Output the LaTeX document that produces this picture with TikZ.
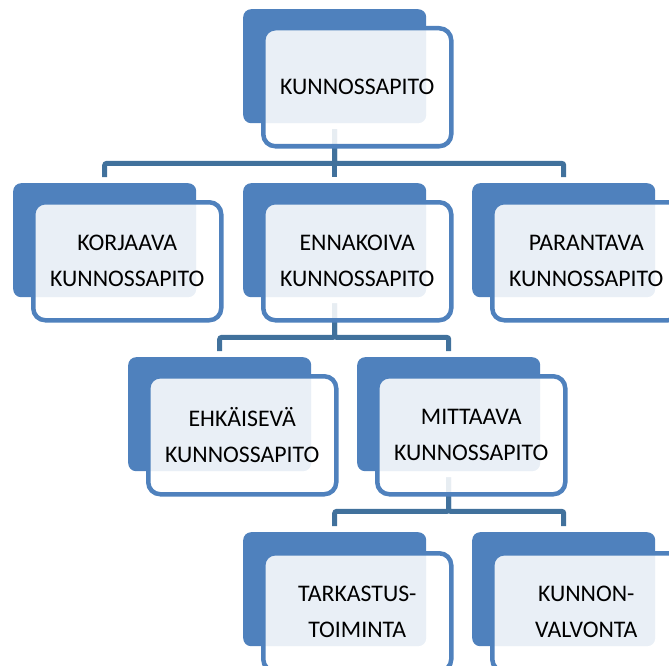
\documentclass[tikz,border=0pt]{standalone}
\usepackage{fontspec}
\setmainfont{Carlito}
\definecolor{accent}{HTML}{4F81BD}
\definecolor{connc}{HTML}{41719C}
\tikzset{
 darkbox/.style={anchor=north west, fill=accent, draw=none, rounded corners=8pt, minimum width=183pt, minimum height=114pt, inner sep=0pt},
 frontbox/.style={anchor=north west, draw=accent, line width=4.5pt, fill=white, fill opacity=0.88, text opacity=1, rounded corners=12pt, minimum width=188pt, minimum height=118pt, inner sep=0pt, align=center, font=\fontsize{23.8}{36}\selectfont},
 conn/.style={draw=connc, line width=5pt, rounded corners=2pt}
}
\begin{document}
\begin{tikzpicture}[x=1pt,y=-1pt]
\useasboundingbox (0,0) rectangle (669,666);
\clip (0,0) rectangle (669,666);
% dark back shapes
\node[darkbox] (rootd) at (243,9) {};
\node[darkbox] (kord) at (13,183) {};
\node[darkbox] (ennd) at (243,183) {};
\node[darkbox] (pard) at (472,183) {};
\node[darkbox] (ehkd) at (128,357) {};
\node[darkbox] (mitd) at (357,357) {};
\node[darkbox] (tard) at (243,532) {};
\node[darkbox] (kund) at (472,532) {};
% connectors
\foreach \p/\c in {rootd/kord, rootd/ennd, rootd/pard, ennd/ehkd, ennd/mitd, mitd/tard, mitd/kund}{
  \draw[conn] ([yshift=-6pt]\p.south) -- ([yshift=-40pt]\p.south) -| ([yshift=6pt]\c.north);
}
% front text boxes
\node[frontbox] (root) at (261,26) {KUNNOSSAPITO};
\node[frontbox] (kor) at (31,200) {KORJAAVA\\KUNNOSSAPITO};
\node[frontbox] (enn) at (261,200) {ENNAKOIVA\\KUNNOSSAPITO};
\node[frontbox] (par) at (490,200) {PARANTAVA\\KUNNOSSAPITO};
\node[frontbox] (ehk) at (146,374) {EHKÄISEVÄ\\KUNNOSSAPITO};
\node[frontbox] (mit) at (375,374) {MITTAAVA\\KUNNOSSAPITO};
\node[frontbox] (tar) at (261,551) {TARKASTUS-\\TOIMINTA};
\node[frontbox] (kun) at (490,551) {KUNNON-\\VALVONTA};
\end{tikzpicture}
\end{document}
